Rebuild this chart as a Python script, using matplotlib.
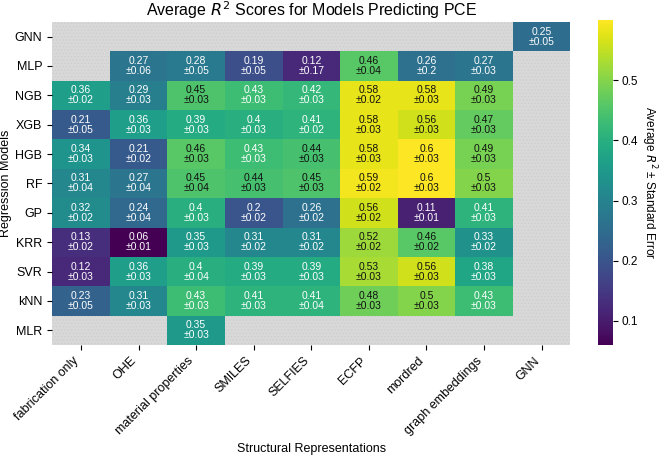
import numpy as np
import matplotlib
matplotlib.use("Agg")
import matplotlib.pyplot as plt
from matplotlib.patches import Rectangle

plt.rcParams['font.family'] = ['Liberation Sans', 'DejaVu Sans']
plt.rcParams['hatch.linewidth'] = 0.3

representations = ["fabrication only", "OHE", "material properties", "SMILES", "SELFIES",
                   "ECFP", "mordred", "graph embeddings", "GNN"]
models = ["GNN", "MLP", "NGB", "XGB", "HGB", "RF", "GP", "KRR", "SVR", "kNN", "MLR"]
nan = np.nan

r2_mean = [
    [nan, nan, nan, nan, nan, nan, nan, nan, 0.25],
    [nan, 0.27, 0.28, 0.19, 0.12, 0.46, 0.26, 0.27, nan],
    [0.36, 0.29, 0.45, 0.43, 0.42, 0.58, 0.58, 0.49, nan],
    [0.21, 0.36, 0.39, 0.40, 0.41, 0.58, 0.56, 0.47, nan],
    [0.34, 0.21, 0.46, 0.43, 0.44, 0.58, 0.60, 0.49, nan],
    [0.31, 0.27, 0.45, 0.44, 0.45, 0.59, 0.60, 0.50, nan],
    [0.32, 0.24, 0.40, 0.20, 0.26, 0.56, 0.11, 0.41, nan],
    [0.13, 0.06, 0.35, 0.31, 0.31, 0.52, 0.46, 0.33, nan],
    [0.12, 0.36, 0.40, 0.39, 0.39, 0.53, 0.56, 0.38, nan],
    [0.23, 0.31, 0.43, 0.41, 0.41, 0.48, 0.50, 0.43, nan],
    [nan, nan, 0.35, nan, nan, nan, nan, nan, nan],
]
r2_err = [
    [nan, nan, nan, nan, nan, nan, nan, nan, 0.05],
    [nan, 0.06, 0.05, 0.05, 0.17, 0.04, 0.2, 0.03, nan],
    [0.02, 0.03, 0.03, 0.03, 0.03, 0.02, 0.03, 0.03, nan],
    [0.05, 0.03, 0.03, 0.03, 0.02, 0.03, 0.03, 0.03, nan],
    [0.03, 0.02, 0.03, 0.03, 0.03, 0.03, 0.03, 0.03, nan],
    [0.04, 0.04, 0.04, 0.03, 0.03, 0.02, 0.03, 0.03, nan],
    [0.02, 0.04, 0.03, 0.02, 0.02, 0.02, 0.01, 0.03, nan],
    [0.02, 0.01, 0.03, 0.02, 0.02, 0.02, 0.02, 0.02, nan],
    [0.03, 0.03, 0.04, 0.03, 0.03, 0.03, 0.03, 0.03, nan],
    [0.05, 0.03, 0.03, 0.03, 0.04, 0.03, 0.03, 0.03, nan],
    [nan, nan, 0.03, nan, nan, nan, nan, nan, nan],
]

mean = np.array(r2_mean, dtype=float)
err = np.array(r2_err, dtype=float)
vmin, vmax = 0.06, 0.60

fig = plt.figure(figsize=(6.61, 4.57), dpi=100)
ax = fig.add_axes([0.079, 0.245, 0.784, 0.707])
cax = fig.add_axes([0.905, 0.245, 0.023, 0.711])

nr, nc = mean.shape
ax.add_patch(Rectangle((0, 0), nc, nr, facecolor='#d8d8d8', edgecolor='#c8c8c8',
                       hatch='.....', linewidth=0, zorder=0))
masked = np.ma.masked_invalid(mean)
cmap = plt.get_cmap('viridis').copy()
cmap.set_bad((0, 0, 0, 0))
mesh = ax.pcolormesh(np.arange(nc + 1), np.arange(nr + 1), masked, cmap=cmap,
                     vmin=vmin, vmax=vmax, zorder=1)
ax.set_xlim(0, nc)
ax.set_ylim(nr, 0)

def fmt(v):
    return f"{v:.2f}".rstrip('0').rstrip('.')

for i in range(nr):
    for j in range(nc):
        v = mean[i, j]
        if np.isnan(v):
            continue
        color = '#111111' if v >= 0.435 else 'white'
        ax.text(j + 0.5, i + 0.5, f"{fmt(v)}\n±{fmt(err[i, j])}", ha='center', va='center',
                fontsize=7.5, color=color, linespacing=1.0, zorder=2)

ax.set_xticks(np.arange(nc) + 0.5)
ax.set_xticklabels(representations, rotation=45, ha='right', fontsize=9)
ax.set_yticks(np.arange(nr) + 0.5)
ax.set_yticklabels(models, fontsize=9)
for s in ax.spines.values():
    s.set_visible(False)
ax.set_xlabel("Structural Representations", fontsize=9)
ax.set_ylabel("Regression Models", fontsize=9, labelpad=2)
ax.set_title("Average $R^2$ Scores for Models Predicting PCE", fontsize=11.5, pad=4)

cb = fig.colorbar(mesh, cax=cax)
cb.outline.set_visible(False)
cb.set_ticks([0.1, 0.2, 0.3, 0.4, 0.5])
cb.ax.tick_params(labelsize=8.5, pad=2.5)
fig.text(649 / 661, 0.6007, "Average $R^2$ ± Standard Error", rotation=270,
         ha='center', va='center', fontsize=8.5)

fig.savefig("out.png", dpi=100)
